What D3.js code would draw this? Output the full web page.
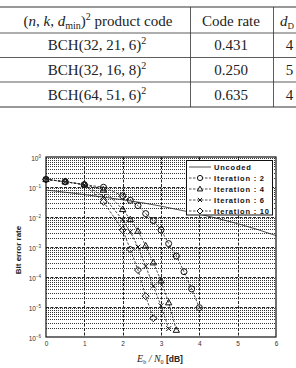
<!DOCTYPE html>
<html>
<head>
<meta charset="utf-8">
<script src="https://d3js.org/d3.v7.min.js"></script>
<style>
  body { margin: 0; background: #fff; }
  svg { display: block; }
</style>
</head>
<body>
<div id="chart"></div>
<script>
// table rows
const tableCodes = [["32", "21", "6"], ["32", "16", "8"], ["64", "51", "6"]];
const tableRates = ["0.431", "0.250", "0.635"];
const tableDist = ["4", "5", "4"];

// BER curves
const xTicks = [0, 1, 2, 3, 4, 5, 6];
const yTickExp = [0, -1, -2, -3, -4, -5, -6];

const uncodedX = [0, 0.5, 1, 1.5, 2, 2.5, 3, 3.5, 4, 4.5, 5, 5.5, 6];
const uncodedBer = [0.079, 0.067, 0.056, 0.046, 0.0375, 0.03, 0.023, 0.017, 0.0125, 0.0088, 0.006, 0.0039, 0.0024];

const iter2X = [0, 0.5, 1, 1.5, 2, 2.2, 2.4, 2.6, 2.8, 3, 3.2, 3.4, 3.6, 3.8, 4];
const iter2Ber = [0.18, 0.15, 0.12, 0.098, 0.051, 0.036, 0.024, 0.013, 0.0076, 0.0037, 0.0013, 5e-4, 1.5e-4, 4e-5, 9.5e-6];
const iter4X = [0, 0.5, 1, 1.5, 2, 2.2, 2.4, 2.6, 2.8, 3, 3.2, 3.4];
const iter4Ber = [0.18, 0.15, 0.12, 0.08, 0.018, 0.0083, 0.0034, 0.0011, 3e-4, 7.5e-5, 1.4e-5, 1.7e-6];
const iter6X = [0, 0.5, 1, 1.5, 2, 2.2, 2.4, 2.6, 2.8, 3, 3.2];
const iter6Ber = [0.18, 0.15, 0.12, 0.048, 0.008, 0.0032, 0.001, 2.3e-4, 5e-5, 1.1e-5, 1.9e-6];
const iter10X = [0, 0.5, 1, 1.5, 2, 2.2, 2.4, 2.6, 2.8];
const iter10Ber = [0.18, 0.15, 0.12, 0.032, 0.0037, 8.3e-4, 1.7e-4, 2.3e-5, 4.2e-6];

const legendLabels = ["Uncoded", "Iteration : 2", "Iteration : 4", "Iteration : 6", "Iteration : 10"];

const svg = d3.select("#chart").append("svg")
    .attr("width", 296)
    .attr("height", 368);

// ---------- table ----------
const tbl = svg.append("g").attr("font-family", "Liberation Serif, serif").attr("fill", "#222");
const rowY = [20.5, 45, 70, 94.5];
[7, 33, 57.5, 82, 107].forEach(function(yy, i) {
    tbl.append("line")
        .attr("x1", 0).attr("x2", 296)
        .attr("y1", yy).attr("y2", yy)
        .attr("stroke", "#333")
        .attr("stroke-width", (i == 0 || i == 4) ? 1 : 0.8);
});
[190.5, 273.5].forEach(function(xx) {
    tbl.append("line")
        .attr("x1", xx).attr("x2", xx)
        .attr("y1", 7).attr("y2", 107)
        .attr("stroke", "#333").attr("stroke-width", 0.8);
});

let head = tbl.append("text").attr("x", 98).attr("y", rowY[0] + 5)
    .attr("text-anchor", "middle").attr("font-size", 15);
head.append("tspan").text("(");
head.append("tspan").attr("font-style", "italic").text("n");
head.append("tspan").text(", ");
head.append("tspan").attr("font-style", "italic").text("k");
head.append("tspan").text(", ");
head.append("tspan").attr("font-style", "italic").text("d");
head.append("tspan").attr("font-size", 10).attr("dy", 3).text("min");
head.append("tspan").attr("dy", -3).text(")");
head.append("tspan").attr("font-size", 10).attr("dy", -6).text("2");
head.append("tspan").attr("dy", 6).text(" product code");

tbl.append("text").attr("x", 231).attr("y", rowY[0] + 5)
    .attr("text-anchor", "middle").attr("font-size", 15).text("Code rate");
let dh = tbl.append("text").attr("x", 280).attr("y", rowY[0] + 5).attr("font-size", 15);
dh.append("tspan").attr("font-style", "italic").text("d");
dh.append("tspan").attr("font-size", 9).attr("dy", 3).text("D");

tableCodes.forEach(function(c, i) {
    let t = tbl.append("text").attr("x", 97).attr("y", rowY[i + 1] + 5)
        .attr("text-anchor", "middle").attr("font-size", 15);
    t.append("tspan").text("BCH(" + c[0] + ", " + c[1] + ", " + c[2] + ")");
    t.append("tspan").attr("font-size", 10).attr("dy", -6).text("2");
    tbl.append("text").attr("x", 231).attr("y", rowY[i + 1] + 5)
        .attr("text-anchor", "middle").attr("font-size", 15).text(tableRates[i]);
    tbl.append("text").attr("x", 289.5).attr("y", rowY[i + 1] + 5)
        .attr("text-anchor", "middle").attr("font-size", 15).text(tableDist[i]);
});

// ---------- chart ----------
const x = d3.scaleLinear().domain([0, 6]).range([46, 276]);
const y = d3.scaleLog().domain([1e-6, 1]).range([337, 157]);

const grid = svg.append("g");
// minor horizontal grid
grid.selectAll(".minor")
    .data(y.ticks().filter(d => Math.abs(Math.log10(d) - Math.round(Math.log10(d))) > 1e-6))
    .enter().append("line")
    .attr("x1", x(0)).attr("x2", x(6))
    .attr("y1", d => Math.round(y(d)) + 0.5).attr("y2", d => Math.round(y(d)) + 0.5)
    .attr("stroke", "#333").attr("stroke-width", 1)
    .attr("stroke-dasharray", "1,1");
// major grid
grid.selectAll(".hmaj")
    .data(yTickExp.slice(1, 6))
    .enter().append("line")
    .attr("x1", x(0)).attr("x2", x(6))
    .attr("y1", d => Math.round(y(Math.pow(10, d))) + 0.5)
    .attr("y2", d => Math.round(y(Math.pow(10, d))) + 0.5)
    .attr("stroke", "#222").attr("stroke-width", 1)
    .attr("stroke-dasharray", "3,1.5");
grid.selectAll(".vmaj")
    .data(xTicks.slice(1, 6))
    .enter().append("line")
    .attr("x1", d => Math.round(x(d)) + 0.5).attr("x2", d => Math.round(x(d)) + 0.5)
    .attr("y1", y(1)).attr("y2", y(1e-6))
    .attr("stroke", "#222").attr("stroke-width", 1)
    .attr("stroke-dasharray", "3,1.5");

// frame
svg.append("rect")
    .attr("x", x(0)).attr("y", y(1))
    .attr("width", x(6) - x(0)).attr("height", y(1e-6) - y(1))
    .attr("fill", "none").attr("stroke", "#111").attr("stroke-width", 1.2);

// x axis
const xAxis = d3.axisBottom(x).tickValues(xTicks).tickSize(0).tickPadding(4).tickFormat(d3.format("d"));
const xg = svg.append("g").attr("transform", "translate(0," + y(1e-6) + ")").call(xAxis);
xg.select(".domain").remove();
xg.selectAll("text").attr("font-size", 6.5).attr("font-family", "Liberation Sans, sans-serif").attr("fill", "#333");

// y axis
const yAxis = d3.axisLeft(y).tickValues(yTickExp.map(e => Math.pow(10, e))).tickSize(0).tickPadding(5).tickFormat("");
const yg = svg.append("g").attr("transform", "translate(" + x(0) + ",0)").call(yAxis);
yg.select(".domain").remove();
yg.selectAll("text").each(function(d) {
    let t = d3.select(this)
        .attr("font-size", 6.5).attr("font-family", "Liberation Sans, sans-serif").attr("fill", "#333")
        .attr("dy", "0.5em");
    t.append("tspan").text("10");
    t.append("tspan").attr("font-size", 4.5).attr("dy", -3).text(Math.round(Math.log10(d)) == 0 ? "0" : "\u2212" + Math.abs(Math.round(Math.log10(d))));
});

// axis labels
svg.append("text")
    .attr("transform", "translate(21," + 250 + ") rotate(-90)")
    .attr("text-anchor", "middle")
    .attr("font-family", "Liberation Sans, sans-serif").attr("font-weight", "bold")
    .attr("font-size", 8).attr("fill", "#222")
    .text("Bit error rate");

let xl = svg.append("text").attr("x", 160).attr("y", 362).attr("text-anchor", "middle")
    .attr("fill", "#222").attr("font-size", 10).attr("font-family", "Liberation Serif, serif");
xl.append("tspan").attr("font-style", "italic").text("E");
xl.append("tspan").attr("font-size", 6).attr("dy", 2).text("b");
xl.append("tspan").attr("dy", -2).attr("font-style", "italic").text(" / N");
xl.append("tspan").attr("font-size", 6).attr("dy", 2).text("0");
xl.append("tspan").attr("dy", -2).attr("font-family", "Liberation Sans, sans-serif")
    .attr("font-weight", "bold").attr("font-size", 8.5).text("  [dB]");

// markers
function markerPath(kind, s) {
    if (kind == "circle") return d3.symbol().type(d3.symbolCircle).size(Math.PI * s * s)();
    if (kind == "triangle") return "M0," + (-s * 1.1) + "L" + (s * 1.05) + "," + (s * 0.75) + "L" + (-s * 1.05) + "," + (s * 0.75) + "Z";
    if (kind == "x") return "M" + (-s * 0.8) + "," + (-s * 0.8) + "L" + (s * 0.8) + "," + (s * 0.8) + "M" + (-s * 0.8) + "," + (s * 0.8) + "L" + (s * 0.8) + "," + (-s * 0.8);
    if (kind == "diamond") return "M0," + (-s * 1.15) + "L" + (s * 1.15) + ",0L0," + (s * 1.15) + "L" + (-s * 1.15) + ",0Z";
    return "";
}

const line = d3.line().x(d => x(d[0])).y(d => y(d[1]));

svg.append("path")
    .datum(d3.zip(uncodedX, uncodedBer))
    .attr("d", line)
    .attr("fill", "none").attr("stroke", "#222").attr("stroke-width", 0.8);

const series = [
    {xs: iter2X, ys: iter2Ber, m: "circle"},
    {xs: iter4X, ys: iter4Ber, m: "triangle"},
    {xs: iter6X, ys: iter6Ber, m: "x"},
    {xs: iter10X, ys: iter10Ber, m: "diamond"}
];

series.forEach(function(s) {
    let pts = d3.zip(s.xs, s.ys);
    svg.append("path")
        .datum(pts)
        .attr("d", line)
        .attr("fill", "none").attr("stroke", "#222").attr("stroke-width", 0.8)
        .attr("stroke-dasharray", "2.5,1.5");
    svg.selectAll(".m-" + s.m)
        .data(pts)
        .enter().append("path")
        .attr("transform", d => "translate(" + x(d[0]) + "," + y(d[1]) + ")")
        .attr("d", markerPath(s.m, 3))
        .attr("fill", "none").attr("stroke", "#111").attr("stroke-width", 1);
});

// legend
const lg = svg.append("g");
lg.append("rect")
    .attr("x", 186.5).attr("y", 160.5).attr("width", 86).attr("height", 54.5)
    .attr("fill", "#fff").attr("stroke", "#111").attr("stroke-width", 1);
legendLabels.forEach(function(lab, i) {
    let yy = 167 + i * 11;
    lg.append("line")
        .attr("x1", 189).attr("x2", 211).attr("y1", yy).attr("y2", yy)
        .attr("stroke", "#222").attr("stroke-width", 0.8)
        .attr("stroke-dasharray", i == 0 ? null : "2.5,1.5");
    if (i > 0) {
        lg.append("path")
            .attr("transform", "translate(200," + yy + ")")
            .attr("d", markerPath(series[i - 1].m, 2.6))
            .attr("fill", "#fff").attr("stroke", "#111").attr("stroke-width", 1);
    }
    lg.append("text")
        .attr("x", 214).attr("y", yy + 2.8)
        .attr("font-family", "Liberation Sans, sans-serif").attr("font-weight", "bold")
        .attr("font-size", 7.5).attr("letter-spacing", 0.8).attr("fill", "#111")
        .text(lab);
});
</script>
</body>
</html>
